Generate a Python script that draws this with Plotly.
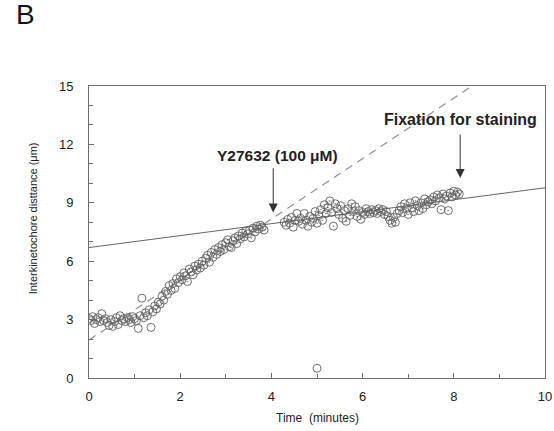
import plotly.graph_objects as go

# ---- data ----
time_before = [0.00, 0.04, 0.08, 0.12, 0.16, 0.20, 0.24, 0.28, 0.32, 0.36,
               0.40, 0.44, 0.48, 0.52, 0.56, 0.60, 0.64, 0.68, 0.72, 0.76,
               0.80, 0.84, 0.88, 0.92, 0.96, 1.00, 1.04, 1.08, 1.12, 1.16,
               1.20, 1.24, 1.28, 1.32, 1.36, 1.40, 1.44, 1.48, 1.52, 1.56,
               1.60, 1.64, 1.68, 1.72, 1.76, 1.80, 1.84, 1.88, 1.92, 1.96,
               2.00, 2.04, 2.08, 2.12, 2.16, 2.20, 2.24, 2.28, 2.32, 2.36,
               2.40, 2.44, 2.48, 2.52, 2.56, 2.60, 2.64, 2.68, 2.72, 2.76,
               2.80, 2.84, 2.88, 2.92, 2.96, 3.00, 3.04, 3.08, 3.12, 3.16,
               3.20, 3.24, 3.28, 3.32, 3.36, 3.40, 3.44, 3.48, 3.52, 3.56,
               3.60, 3.64, 3.68, 3.72, 3.76, 3.80, 3.84]
dist_before = [3.05, 2.95, 3.15, 2.80, 3.00, 3.10, 2.90, 3.30, 2.95, 3.05,
               2.85, 2.70, 3.00, 2.65, 2.90, 3.10, 2.75, 3.20, 2.95, 3.05,
               2.90, 3.10, 3.00, 2.85, 3.15, 3.05, 2.95, 2.55, 3.20, 4.10,
               3.10, 3.35, 3.20, 3.50, 2.60, 3.40, 3.70, 3.55, 3.90, 3.80,
               4.20, 4.00, 4.45, 4.30, 4.75, 4.50, 4.85, 4.60, 5.10, 4.90,
               5.20, 5.05, 5.40, 5.25, 4.95, 5.60, 5.45, 5.30, 5.75, 5.55,
               5.85, 5.65, 6.00, 5.80, 6.15, 6.30, 5.95, 6.45, 6.20, 6.60,
               6.35, 6.70, 6.50, 6.85, 6.60, 6.95, 7.10, 6.75, 6.70, 7.05,
               7.20, 6.90, 7.30, 7.15, 7.45, 7.25, 7.55, 7.40, 7.60, 7.20,
               7.70, 7.50, 7.80, 7.65, 7.85, 7.75, 7.60]

time_after = [4.28, 4.32, 4.36, 4.40, 4.44, 4.48, 4.52, 4.56, 4.60, 4.64,
              4.68, 4.72, 4.76, 4.80, 4.84, 4.88, 4.92, 4.96, 5.00, 5.04,
              5.08, 5.12, 5.16, 5.20, 5.24, 5.28, 5.32, 5.36, 5.40, 5.44,
              5.48, 5.52, 5.56, 5.60, 5.64, 5.68, 5.72, 5.76, 5.80, 5.84,
              5.88, 5.92, 5.96, 6.00, 6.04, 6.08, 6.12, 6.16, 6.20, 6.24,
              6.28, 6.32, 6.36, 6.40, 6.44, 6.48, 6.52, 6.56, 6.60, 6.64,
              6.68, 6.72, 6.76, 6.80, 6.84, 6.88, 6.92, 6.96, 7.00, 7.04,
              7.08, 7.12, 7.16, 7.20, 7.24, 7.28, 7.32, 7.36, 7.40, 7.44,
              7.48, 7.52, 7.56, 7.60, 7.64, 7.68, 7.72, 7.76, 7.80, 7.84,
              7.88, 7.92, 7.96, 8.00, 8.04, 8.08, 8.12]
dist_after = [8.00, 7.85, 8.15, 7.95, 8.25, 7.75, 8.10, 8.45, 8.05, 8.20,
              7.90, 8.45, 8.10, 7.80, 8.30, 8.00, 8.20, 8.55, 7.95, 8.35,
              8.65, 8.10, 8.90, 8.45, 8.75, 9.10, 8.50, 7.80, 8.95, 8.70,
              8.40, 8.85, 8.20, 8.60, 8.05, 8.70, 8.35, 8.95, 8.55, 8.80,
              8.30, 8.60, 8.15, 8.50, 8.40, 8.70, 8.55, 8.45, 8.65, 8.50,
              8.60, 8.45, 8.70, 8.55, 8.65, 8.40, 8.55, 8.30, 8.10, 7.95,
              8.25, 8.00, 8.45, 8.60, 8.80, 8.50, 8.95, 8.70, 8.40, 9.00,
              8.75, 8.55, 9.10, 8.85, 8.60, 9.00, 8.70, 9.20, 8.90, 9.05,
              9.15, 8.95, 9.30, 9.10, 9.40, 9.25, 8.65, 9.45, 9.20, 9.35,
              8.60, 9.50, 9.30, 9.60, 9.40, 9.55, 9.45]

outlier_time = [5.0]
outlier_dist = [0.5]

# fitted lines (end points)
fit_after_x = [0.0, 10.0]
fit_after_y = [6.70, 9.77]
fit_before_x = [0.0, 8.40]
fit_before_y = [1.95, 15.0]

# annotation anchors
drug_time, drug_tip, drug_tail = 4.04, 8.50, 10.85
fix_time, fix_tip, fix_tail = 8.14, 10.27, 12.58

x_ticks = [0, 2, 4, 6, 8, 10]
y_ticks = [0, 3, 6, 9, 12, 15]

# ---- styling ----
MARK = "#606060"
FRAME = "#6e6e6e"
TXT = "#222222"
FONT = "Arial, Liberation Sans, sans-serif"


def symbols(times, threshold):
    return ["circle-open" if t < threshold else "circle-open-dot" for t in times]


fig = go.Figure()

fig.add_trace(go.Scatter(x=fit_before_x, y=fit_before_y, mode="lines",
                         line=dict(color="#909090", width=1.2, dash="8px,6px"),
                         hoverinfo="skip", showlegend=False))
fig.add_trace(go.Scatter(x=fit_after_x, y=fit_after_y, mode="lines",
                         line=dict(color="#666666", width=1),
                         hoverinfo="skip", showlegend=False))

mk = dict(size=8, color=MARK, line=dict(color=MARK, width=0.9))
fig.add_trace(go.Scatter(x=time_before, y=dist_before, mode="markers",
                         marker=dict(symbol=symbols(time_before, 2.0), **mk),
                         showlegend=False))
fig.add_trace(go.Scatter(x=time_after, y=dist_after, mode="markers",
                         marker=dict(symbol=symbols(time_after, 4.9), **mk),
                         showlegend=False))
fig.add_trace(go.Scatter(x=outlier_time, y=outlier_dist, mode="markers",
                         marker=dict(symbol="circle-open", **mk),
                         showlegend=False))

axis_common = dict(showline=True, linecolor=FRAME, linewidth=1, mirror=True,
                   ticks="inside", ticklen=5, tickcolor=FRAME, tickwidth=1,
                   showgrid=False, zeroline=False, automargin=False,
                   tickfont=dict(family=FONT, size=13, color=TXT))

fig.update_xaxes(range=[0, 10], tickvals=x_ticks,
                 minor=dict(dtick=1, ticks="inside", ticklen=4, tickcolor=FRAME, showgrid=False),
                 ticklabelstandoff=6,
                 **axis_common)
fig.update_yaxes(range=[0, 15], tickvals=y_ticks,
                 minor=dict(dtick=1, ticks="inside", ticklen=4, tickcolor=FRAME, showgrid=False),
                 ticklabelstandoff=12,
                 **axis_common)

annotations = [
    dict(x=drug_time, y=drug_tip, ax=drug_time, ay=drug_tail, axref="x", ayref="y",
         xref="x", yref="y", text="", showarrow=True, arrowhead=2, arrowsize=1.8,
         arrowwidth=1, arrowcolor="#333333"),
    dict(x=fix_time, y=fix_tip, ax=fix_time, ay=fix_tail, axref="x", ayref="y",
         xref="x", yref="y", text="", showarrow=True, arrowhead=2, arrowsize=1.8,
         arrowwidth=1, arrowcolor="#333333"),
    dict(x=4.14, y=11.45, xref="x", yref="y", text="<b>Y27632 (100 μM)</b>",
         showarrow=False, font=dict(family=FONT, size=15.5, color=TXT)),
    dict(x=8.14, y=13.3, xref="x", yref="y", text="<b>Fixation for staining</b>",
         showarrow=False, font=dict(family=FONT, size=16, color=TXT)),
    # axis titles
    dict(x=0.5, y=-0.137, xref="paper", yref="paper", text="Time\u00a0\u00a0(minutes)",
         showarrow=False, yanchor="middle", font=dict(family=FONT, size=12, color=TXT)),
    dict(x=-0.122, y=0.5 + 0.048, xref="paper", yref="paper",
         text="Interkinetochore disttance (μm)", textangle=-90,
         showarrow=False, xanchor="center", font=dict(family=FONT, size=11, color=TXT)),
    # panel label
    dict(x=-0.165, y=1.305, xref="paper", yref="paper", text="B", showarrow=False,
         xanchor="left", yanchor="top", font=dict(family=FONT, size=28, color="#111111")),
]

fig.update_layout(width=554, height=431,
                  margin=dict(l=89, r=9, t=86, b=53),
                  paper_bgcolor="white", plot_bgcolor="white",
                  annotations=annotations,
                  font=dict(family=FONT, color=TXT))

fig.write_html("out.html")
